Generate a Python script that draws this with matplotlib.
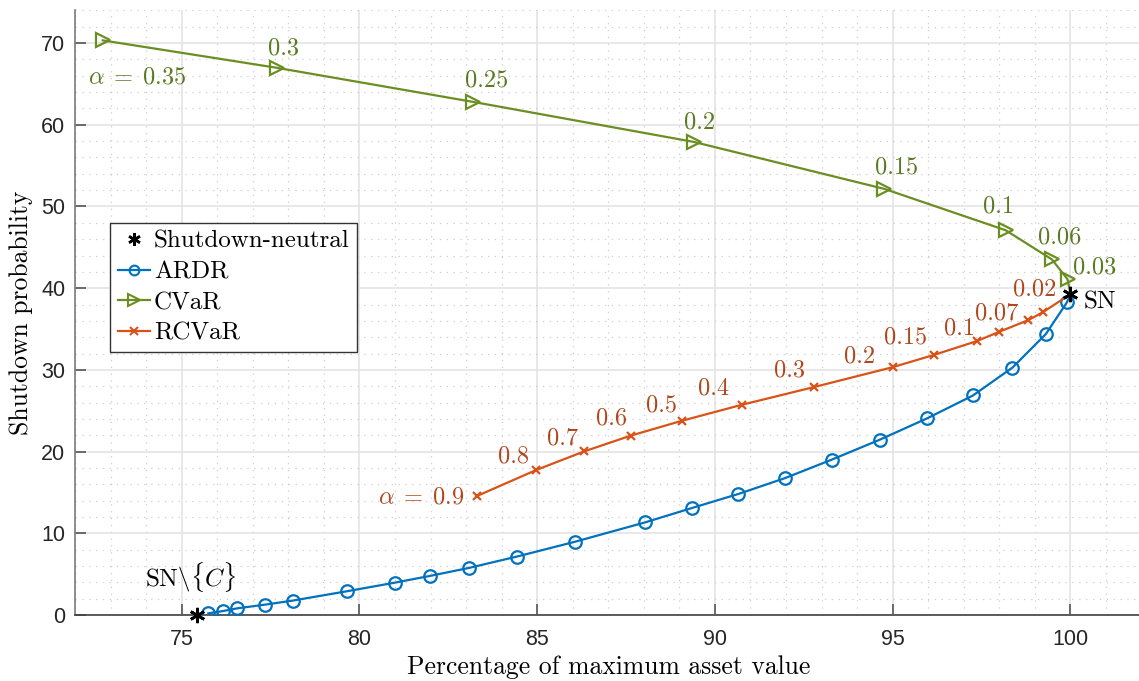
import matplotlib
matplotlib.use('Agg')
import matplotlib.pyplot as plt
from matplotlib.ticker import MultipleLocator
from matplotlib.lines import Line2D

plt.rcParams['mathtext.fontset'] = 'cm'
plt.rcParams['axes.unicode_minus'] = False

# ARDR trade-off curve
ardr_x = [75.75, 76.17, 76.57, 77.35, 78.12, 79.64, 81.0, 81.98, 83.08, 84.42, 86.06,
          88.04, 89.35, 90.65, 91.97, 93.29, 94.64, 95.97, 97.26, 98.37, 99.31, 99.90]
ardr_y = [0.2, 0.49, 0.82, 1.27, 1.76, 2.9, 3.96, 4.78, 5.76, 7.14, 8.96,
          11.34, 13.09, 14.8, 16.75, 19.02, 21.46, 24.07, 26.87, 30.28, 34.39, 38.25]

# CVaR for decreasing alpha
cvar_labels = [r'$\alpha\;=\;0.35$', '0.3', '0.25', '0.2', '0.15', '0.1', '0.06', '0.03']
cvar_x = [72.78, 77.67, 83.2, 89.41, 94.77, 98.18, 99.48, 99.92]
cvar_y = [70.33, 66.98, 62.8, 57.9, 52.15, 47.09, 43.52, 41.09]

# RCVaR for decreasing alpha
rcvar_labels = [r'$\alpha\;=\;0.9$', '0.8', '0.7', '0.6', '0.5', '0.4', '0.3', '0.2',
                '0.15', '0.1', '0.07', '', '0.02']
rcvar_x = [83.30, 84.98, 86.32, 87.63, 89.07, 90.75, 92.78, 95.0, 96.16, 97.38, 98.0, 98.82, 99.24]
rcvar_y = [14.55, 17.76, 20.02, 21.95, 23.77, 25.72, 27.89, 30.33, 31.83, 33.54, 34.67, 36.1, 37.1]

# shutdown-neutral policies
sn_x, sn_y = 100.0, 39.27
snc_x, snc_y = 75.42, 0.0

# label offsets (pixels)
cvar_off = [(35, -37), (7, 19), (13, 21), (6, 20), (12, 21), (-7, 24), (8, 22), (27, 12)]
rcvar_off = [(-55, -1), (-23, 13), (-22, 13), (-19, 17), (-20, 15), (-28, 16), (-24, 17),
             (-33, 11), (-28, 18), (-18, 13), (-3, 18), (0, 0), (-9, 22)]

blue = '#0072BD'
orange = '#D95319'
green = '#6B8E23'
green_txt = '#5A7A22'
orange_txt = '#B0481F'
serif = 'cmr10'

fig = plt.figure(figsize=(11.39, 6.81), dpi=100)
ax = fig.add_axes([75 / 1139, 66 / 681, 1066.5 / 1139, 604.6 / 681])

ax.plot(ardr_x + [sn_x], ardr_y + [sn_y], color=blue, lw=1.6, marker='o', ms=9,
        mfc='none', mew=1.6, markevery=list(range(len(ardr_x))), zorder=3)
ax.plot(cvar_x + [sn_x], cvar_y + [sn_y], color=green, lw=1.6, marker='>', ms=10,
        mfc='none', mew=1.6, markevery=list(range(len(cvar_x))), zorder=3)
ax.plot(rcvar_x + [sn_x], rcvar_y + [sn_y], color=orange, lw=1.6, marker='x', ms=6,
        mew=1.6, markevery=list(range(len(rcvar_x))), zorder=3)
ax.plot([sn_x, snc_x], [sn_y, snc_y], ls='none', marker=(6, 2, 0), ms=11, mew=2,
        color='black', zorder=4, clip_on=False)

for lab, x, y, off in zip(cvar_labels, cvar_x, cvar_y, cvar_off):
    ax.annotate(lab, (x, y), xytext=off, textcoords='offset pixels', ha='center',
                va='center', fontsize=17.5, family=serif, color=green_txt)
for lab, x, y, off in zip(rcvar_labels, rcvar_x, rcvar_y, rcvar_off):
    if lab:
        ax.annotate(lab, (x, y), xytext=off, textcoords='offset pixels', ha='center',
                    va='center', fontsize=17.5, family=serif, color=orange_txt)

ax.annotate('SN', (sn_x, sn_y), xytext=(13, -8), textcoords='offset pixels', ha='left',
            va='center', fontsize=18, family=serif, color='black')
ax.annotate(r'$\mathrm{SN}\backslash\{C\}$', (snc_x, snc_y), xytext=(-6, 38),
            textcoords='offset pixels', ha='center', va='center', fontsize=18, color='black')

ax.set_xlim(72, 102)
ax.set_ylim(0, 74)
ax.xaxis.set_major_locator(MultipleLocator(5))
ax.xaxis.set_minor_locator(MultipleLocator(1))
ax.yaxis.set_major_locator(MultipleLocator(10))
ax.yaxis.set_minor_locator(MultipleLocator(2))
ax.set_xticks([75, 80, 85, 90, 95, 100])

ax.set_axisbelow(True)
ax.grid(which='major', color='#e2e2e2', lw=1.1, ls='-')
ax.grid(which='minor', color='#cdcdcd', lw=0.9, ls=(0, (1, 4.5)))

ax.tick_params(which='major', direction='in', length=8, width=1.2, color='#555555',
               labelsize=15.5, labelcolor='#262626', pad=7)
ax.tick_params(axis='x', which='major', pad=10)
ax.tick_params(which='minor', length=0)
for t in ax.get_xticklabels() + ax.get_yticklabels():
    t.set_family('Liberation Sans')

for s in ['top', 'right']:
    ax.spines[s].set_visible(False)
ax.spines['left'].set_color('#7a7a7a')
ax.spines['bottom'].set_color('#404040')
ax.spines['left'].set_linewidth(1.2)
ax.spines['bottom'].set_linewidth(1.2)

ax.set_xlabel('Percentage of maximum asset value', fontsize=18.5, family=serif, labelpad=4)
ax.set_ylabel('Shutdown probability', fontsize=18.5, family=serif, labelpad=6)

handles = [
    Line2D([], [], ls='none', marker=(6, 2, 0), ms=9, mew=1.8, color='black'),
    Line2D([], [], color=blue, lw=1.6, marker='o', ms=7, mfc='none', mew=1.5),
    Line2D([], [], color=green, lw=1.6, marker='>', ms=8, mfc='none', mew=1.5),
    Line2D([], [], color=orange, lw=1.6, marker='x', ms=6, mew=1.5),
]
leg = ax.legend(handles, ['Shutdown-neutral', 'ARDR', 'CVaR', 'RCVaR'],
                loc='upper left', bbox_to_anchor=(35 / 1066.5, 392 / 604.6),
                borderaxespad=0, prop={'family': serif, 'size': 18}, fancybox=False,
                framealpha=1, edgecolor='#333333', handlelength=1.3, handletextpad=0.15,
                labelspacing=0.32, borderpad=0.3)
leg.get_frame().set_linewidth(1.0)

fig.savefig('out.png', dpi=100)
